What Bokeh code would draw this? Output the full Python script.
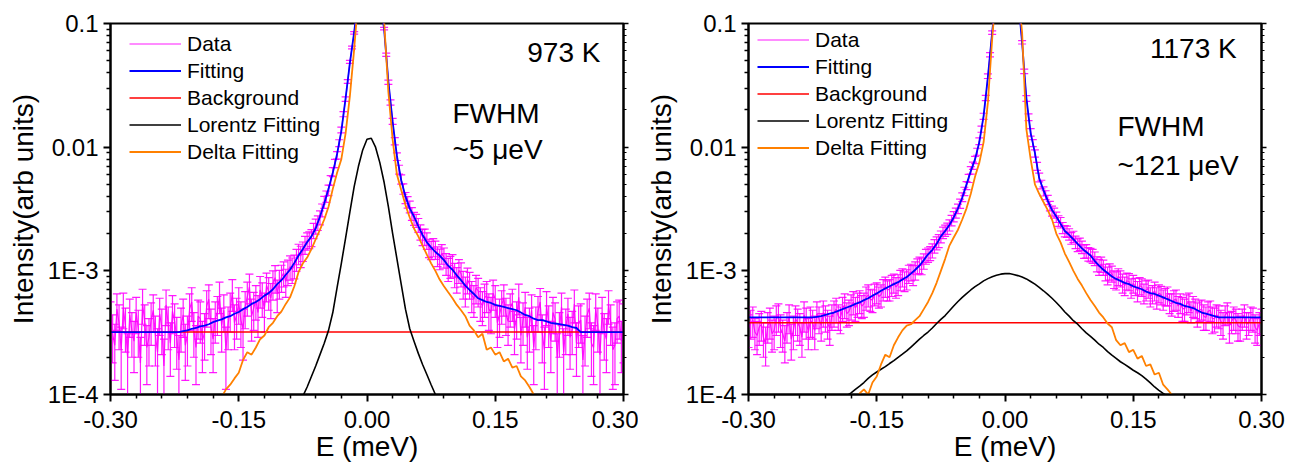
import numpy as np
from bokeh.plotting import figure
from bokeh.models import (Range1d, FixedTicker, LogAxis, Whisker, TeeHead,
                          ColumnDataSource, Legend, LegendItem, Label, PrintfTickFormatter)
from bokeh.layouts import row
from bokeh.embed import file_html
from bokeh.resources import INLINE

FONT = "Liberation Sans"
MAGENTA = "#FF00FF"
BLUE = "#0000FF"
RED = "#FF0000"
ORANGE = "#FF8000"

UNIT = 1e-4   # every intensity list below is given in units of 1e-4 (arb units)

# energy grids (meV): measured data every 0.0025 meV, fit curves every 0.005 meV
E_MIN = -0.300
N_DATA, STEP_DATA = 241, 0.0025
N_FIT, STEP_FIT = 121, 0.005
energy_data = np.round(E_MIN + STEP_DATA * np.arange(N_DATA), 4)
energy_fit = np.round(E_MIN + STEP_FIT * np.arange(N_FIT), 4)

# ticks
x_major_ticks = [-0.30, -0.15, 0.00, 0.15, 0.30]
x_minor_ticks = [-0.27, -0.24, -0.21, -0.18, -0.12, -0.09, -0.06, -0.03,
                 0.03, 0.06, 0.09, 0.12, 0.18, 0.21, 0.24, 0.27]
y_major_ticks = [1e-4, 1e-3, 1e-2, 1e-1]
y_major_labels = ["1E-4", "1E-3", "0.01", "0.1"]
y_minor_ticks = [2e-4, 3e-4, 4e-4, 5e-4, 6e-4, 7e-4, 8e-4, 9e-4,
                 2e-3, 3e-3, 4e-3, 5e-3, 6e-3, 7e-3, 8e-3, 9e-3,
                 2e-2, 3e-2, 4e-2, 5e-2, 6e-2, 7e-2, 8e-2, 9e-2]

# ---------------- 973 K ----------------
data_973 = [
    4.2, 3.1, 2.5, 4.9, 3.8, 2.3, 5.0, 3.6, 2.0, 4.4,
    3.3, 2.7, 4.6, 3.4, 1.8, 5.4, 3.9, 2.4, 2.9, 4.0,
    4.8, 3.0, 2.2, 4.5, 3.5, 1.7, 5.3, 3.7, 2.6, 4.7,
    3.9, 2.9, 1.9, 3.6, 4.4, 2.5, 3.0, 4.9, 5.6, 3.3,
    2.4, 4.3, 4.1, 2.7, 3.2, 5.2, 5.9, 3.5, 2.8, 4.1,
    4.6, 6.3, 3.6, 4.8, 2.3, 3.7, 4.9, 6.6, 3.8, 4.4,
    5.5, 4.0, 3.4, 5.1, 6.2, 7.4, 4.3, 5.0, 5.8, 4.6,
    7.0, 6.1, 4.9, 7.6, 6.8, 6.0, 7.9, 8.8, 6.5, 8.0,
    8.9, 9.6, 8.2, 9.9, 10.8, 10.3, 11.0, 12.4, 13.8, 13.2,
    14.5, 16.3, 17.5, 17.9, 18.6, 21.2, 23, 24.5, 27, 31,
    36, 40, 45, 54, 63, 74, 86, 108, 138, 185,
    245, 340, 490, 640, 840, 1200, 1720, 2350, 3150, 4100,
    4850, 5000, 4750, 3950, 3050, 2200, 1580, 1250, 910, 560,
    335, 230, 162, 112, 84, 66, 55, 46, 39, 36,
    33, 29, 26.5, 25.5, 23.5, 20.6, 18.8, 18.9, 17.6, 15.4,
    14.8, 15.6, 14.9, 13.2, 12.6, 13.8, 12.9, 11.5, 10.4, 10.9,
    11.2, 9.4, 8.6, 10.1, 9.5, 7.9, 7.0, 8.5, 7.8, 6.4,
    5.9, 7.3, 6.9, 5.6, 5.2, 6.0, 6.4, 4.9, 4.6, 6.6,
    5.9, 3.8, 4.4, 5.3, 6.0, 4.5, 3.9, 5.0, 5.5, 3.4,
    4.2, 6.1, 3.0, 4.0, 5.1, 2.9, 3.6, 4.8, 2.4, 3.7,
    4.7, 5.6, 3.1, 2.3, 5.2, 3.8, 2.7, 4.6, 4.1, 2.0,
    3.3, 5.1, 2.2, 3.5, 4.5, 2.9, 3.4, 5.4, 2.6, 3.8,
    4.0, 1.9, 3.0, 4.4, 5.0, 2.6, 2.4, 4.9, 3.6, 2.1,
    4.6, 3.2, 2.8, 5.3, 3.9, 2.3, 2.5, 4.1, 4.3, 2.7,
    3.6]
err_973 = [
    1.4, 1.3, 1.2, 1.6, 1.5, 1.2, 1.6, 1.4, 1.1, 1.5,
    1.3, 1.2, 1.5, 1.4, 1.1, 1.7, 1.4, 1.2, 1.2, 1.5,
    1.6, 1.3, 1.2, 1.5, 1.4, 1.1, 1.7, 1.4, 1.2, 1.6,
    1.5, 1.3, 1.1, 1.4, 1.5, 1.2, 1.3, 1.6, 1.7, 1.3,
    1.2, 1.5, 1.5, 1.2, 1.3, 1.7, 1.8, 1.4, 1.3, 1.5,
    1.6, 1.8, 1.4, 1.6, 1.2, 1.4, 1.7, 1.9, 1.5, 1.6,
    1.8,
    1.6, 1.5, 1.7, 1.9, 2.0, 1.6, 1.7, 1.8, 1.7, 2.0,
    1.9, 1.7, 2.0, 2.0, 1.9, 2.1, 2.2, 1.9, 2.1, 2.2,
    2.2, 2.1, 2.3, 2.4, 2.4, 2.4, 2.5, 2.6, 2.6, 2.6,
    2.7, 2.8, 2.8, 2.9, 3.0, 3.2, 3.3, 3.5, 3.7, 4.0,
    4.2, 4.4, 4.8, 5.2, 5.6, 6.0, 6.8, 7.5, 8.8, 10,
    12, 14, 17, 20, 24, 28, 33, 38, 43, 48,
    49, 48, 43, 38, 33, 28, 24, 21, 17, 13,
    11, 9, 7.5, 6.0, 5.4, 4.8, 4.4, 4.0, 3.8, 3.6,
    3.4, 3.2, 3.1, 3.0, 2.9, 2.8, 2.8, 2.7, 2.6, 2.5,
    2.6, 2.5, 2.4, 2.4, 2.5, 2.4, 2.3, 2.2, 2.2, 2.3,
    2.1, 2.0, 2.2, 2.1, 2.0, 1.9, 2.0, 1.9, 1.8, 1.7,
    1.9, 1.8, 1.7, 1.6, 1.8, 1.8, 1.6, 1.5, 1.8, 1.7,
    1.4, 1.5, 1.6, 1.7, 1.5, 1.4, 1.5, 1.6, 1.3, 1.4,
    1.7, 1.2, 1.5, 1.6, 1.3, 1.4, 1.6, 1.2, 1.4, 1.5,
    1.6, 1.3, 1.2, 1.6, 1.4, 1.2, 1.5, 1.4, 1.1, 1.3,
    1.5, 1.2, 1.4, 1.5, 1.3, 1.3, 1.6, 1.2, 1.4, 1.4,
    1.1, 1.3, 1.5, 1.6, 1.2, 1.2, 1.6, 1.4, 1.1, 1.5,
    1.3, 1.3, 1.6, 1.4, 1.2, 1.3, 1.5, 1.5, 1.2, 1.8]
fit_973 = [3.2] * 17 + [
    3.25, 3.3, 3.4, 3.45, 3.55, 3.6, 3.7, 3.85, 3.95, 4.05,
    4.2, 4.3, 4.5, 4.65, 4.9, 5.1, 5.4, 5.6, 5.9, 6.3,
    6.6, 7.1, 7.8, 8.4, 9.3, 10.2, 11.6, 13.3, 15, 17,
    19, 22, 27.5, 35, 46, 62, 88, 135, 250, 480,
    850, 1700, 3200, 4800, 4800, 3000, 1600, 900, 340, 160,
    85, 54, 40, 32, 27.5, 23, 19.5, 17, 15.5, 14.2,
    13.3, 12.2, 11, 10.2, 9.2, 8.4, 7.6, 7.0, 6.5, 6.0,
    5.8, 5.6, 5.5, 5.3, 5.2, 5.1, 5.0, 4.9, 4.8, 4.6,
    4.4, 4.3, 4.1, 4.0, 4.0, 3.9, 3.8, 3.75, 3.7, 3.65,
    3.6, 3.5, 3.45] + [3.2] * 11
bg_973 = 3.2
lorentz_973 = [None] * 42 + [
    0.7, 0.78, 0.86, 0.97, 1.15, 1.4, 1.7, 2.1, 2.6, 3.3,
    4.6, 7.3, 11.5, 18.5, 30, 48, 70, 95, 116, 118,
    100, 75, 52, 33, 20, 12.5, 7.8, 4.9, 3.4, 2.7,
    2.15, 1.75, 1.45, 1.2, 1.0, 0.86, 0.76, 0.68] + [None] * 41
delta_973 = [None] * 25 + [
    0.8, 0.95, 1.1, 1.2, 1.35, 1.5, 1.9, 2.2, 2.1, 2.4,
    2.8, 3.0, 3.5, 3.8, 4.3, 4.7, 5.4, 6.1, 7.5, 9.8,
    11.5, 12.8, 15, 18, 21.5, 26, 33, 46, 62, 80,
    130, 260, 620, 1700, 4000, 6000, 6000, 3500, 1500, 1050,
    280, 115, 60, 45, 34, 27, 22, 19, 16, 13.5,
    11.5, 10, 8.5, 7.5, 6.7, 6.0, 5.3, 4.8, 4.3, 3.6,
    3.3, 2.9, 3.1, 2.3, 2.4, 2.1, 2.2, 1.85, 1.95, 1.65,
    1.7, 1.4, 1.3, 1.15, 1.0, 0.85] + [None] * 20

# ---------------- 1173 K ----------------
data_1173 = [
    3.4, 3.8, 4.0, 3.2, 3.0, 3.5, 3.7, 2.9, 2.6, 3.6,
    3.9, 3.1, 3.3, 4.1, 4.3, 3.4, 3.1, 2.7, 3.6, 4.2,
    2.8, 3.3, 4.1, 3.8, 3.5, 2.9, 4.4, 3.9, 3.2, 4.0,
    3.8, 3.3, 4.5, 4.1, 3.6, 4.6, 4.2, 3.8, 3.4, 4.3,
    4.6, 4.9, 4.3, 4.1, 5.0, 5.3, 4.5, 4.7, 5.2, 5.6,
    5.0, 5.4, 5.7, 5.2, 5.4, 6.1, 6.4, 5.9, 5.8, 6.5,
    6.7, 6.2, 6.4, 7.1, 7.5, 7.0, 7.1, 7.7, 8.0, 7.4,
    7.8, 8.5, 8.9, 8.3, 8.6, 9.5, 9.8, 9.3, 10.1, 10.9,
    11.2, 11.0, 12.0, 13.1, 13.5, 13.9, 14.6, 15.9, 16.8, 17.5,
    18.9, 20.4, 21.2, 22.0, 23.4, 25.6, 27.5, 29.4, 31.8, 35.0,
    39.5, 44, 49, 56, 65, 71, 79, 92, 112, 140,
    178, 250, 375, 560, 845, 1280, 1920, 2650, 3480, 4350,
    5050, 5200, 4950, 4200, 3320, 2450, 1690, 1100, 705, 410,
    248, 175, 132, 108, 89, 70, 57, 50, 44, 41,
    37.5, 33.5, 30.5, 29.4, 27.2, 25.4, 24.6, 22.3, 21.0, 20.8,
    19.8, 18.4, 18.9, 17.1, 16.2, 16.5, 15.6, 14.4, 14.5, 13.7,
    13.5, 13.2, 12.6, 11.4, 10.8, 11.3, 10.7, 9.8, 9.2, 9.9,
    9.5, 8.6, 8.4, 9.0, 8.7, 8.0, 7.6, 8.3, 8.2, 7.3,
    7.9, 7.5, 6.9, 7.6, 7.4, 6.6, 7.0, 7.2, 6.2, 6.5,
    6.9, 6.1, 6.6, 6.4, 5.9, 6.2, 6.3, 5.5, 5.4, 5.8,
    5.9, 5.2, 5.5, 5.0, 4.9, 5.4, 5.6, 4.7, 5.2, 5.0,
    4.5, 4.8, 4.9, 4.3, 4.2, 4.7, 4.8, 4.1, 4.1, 4.4,
    4.3, 3.9, 3.7, 4.4, 4.6, 3.6, 3.9, 4.2, 4.0, 3.6,
    3.5, 4.1, 4.4, 3.7, 3.8, 4.2, 4.1, 3.5, 3.3, 3.8,
    4.0]
err_1173 = [
    1.0, 1.0, 1.1, 0.9, 0.9, 1.0, 1.0, 0.9, 0.9, 1.0,
    1.1, 0.9, 1.0, 1.1, 1.1, 1.0, 0.9, 0.9, 1.0, 1.1,
    0.9, 1.0, 1.1, 1.1, 1.0, 0.9, 1.2, 1.1, 0.9, 1.1,
    1.0, 1.0, 1.1, 1.0, 0.9, 1.1, 1.0, 1.0, 0.9, 1.0,
    1.1, 1.1, 1.0, 1.0, 1.1, 1.2, 1.0, 1.1, 1.2, 1.2,
    1.1, 1.2, 1.2, 1.1, 1.2, 1.3, 1.3, 1.2, 1.2, 1.3,
    1.3,
    1.2, 1.3, 1.4, 1.4, 1.3, 1.4, 1.5, 1.4, 1.4, 1.5,
    1.6, 1.5, 1.5, 1.6, 1.6, 1.5, 1.7, 1.7, 1.6, 1.7,
    1.7, 1.7, 1.8, 1.8, 1.8, 1.9, 2.0, 2.0, 2.1, 2.1,
    2.2, 2.2, 2.3, 2.4, 2.5, 2.6, 2.7, 2.8, 3.0, 3.2,
    3.4, 3.7, 4.2, 4.5, 4.8, 5.3, 6, 7, 8, 10,
    12, 16, 22, 28, 36, 42, 48, 52, 56, 58,
    59, 58, 54, 48, 42, 35, 28, 22, 17, 13,
    11, 9, 7, 6, 5.2, 4.6, 4.0, 3.7, 3.4, 3.2,
    3.0, 2.8, 2.7, 2.6, 2.5, 2.4, 2.3, 2.2, 2.2, 2.1,
    2.0, 2.0, 2.0, 1.9, 1.9, 1.8, 1.8, 1.8, 1.7, 1.7,
    1.7, 1.6, 1.6, 1.6, 1.6, 1.5, 1.5, 1.5, 1.5, 1.4,
    1.4, 1.4, 1.4, 1.3, 1.4, 1.3, 1.3, 1.3, 1.3, 1.3,
    1.2, 1.3, 1.2, 1.2, 1.2, 1.3, 1.2, 1.1, 1.1, 1.2,
    1.2, 1.1, 1.1, 1.1, 1.0, 1.1, 1.0, 1.1, 1.1, 1.1,
    1.0, 1.0, 1.1, 1.0, 1.0, 1.0, 0.9, 1.0, 0.9, 1.0,
    0.9, 0.9, 1.0, 0.9, 0.9, 0.9, 1.0, 0.9, 0.9, 0.9,
    0.9, 0.9, 0.8, 0.9, 1.0, 0.8, 0.9, 0.9, 0.9, 0.8,
    0.8, 0.9, 0.9, 0.8, 0.9, 0.9, 0.9, 0.8, 0.8, 0.9]
fit_1173 = [4.2] * 16 + [
    4.25, 4.3, 4.4, 4.5, 4.6, 4.75, 4.9, 5.05, 5.2, 5.4,
    5.55, 5.8, 6.0, 6.3, 6.55, 6.9, 7.2, 7.5, 7.8, 8.1,
    8.5, 8.9, 9.5, 10.2, 11.0, 12.2, 13.6, 14.8, 16.5, 19,
    21, 23.5, 27, 32, 39, 50, 64, 80, 110, 180,
    370, 850, 1900, 3500, 5000, 5000, 3300, 1700, 700, 250,
    130, 90, 56, 45, 37, 31, 27.5, 24, 21, 19.5,
    18, 16.5, 15.2, 14.2, 13.3, 12, 11, 10.2, 9.6, 9.0,
    8.6, 8.3, 8.0, 7.8, 7.5, 7.3, 7.1, 6.8, 6.6, 6.5,
    6.3, 6.1, 5.9, 5.7, 5.5, 5.4, 5.2, 5.1, 5.0, 4.8,
    4.6, 4.5, 4.4, 4.3] + [4.2] * 11
bg_1173 = 3.8
lorentz_1173 = [None] * 20 + [
    0.84, 0.88, 0.93, 0.98, 1.03, 1.1, 1.17, 1.25, 1.35, 1.44,
    1.52, 1.6, 1.68, 1.78, 1.88, 2.0, 2.12, 2.25, 2.42, 2.6,
    2.8, 3.0, 3.2, 3.45, 3.75, 4.05, 4.35, 4.75, 5.2, 5.65,
    6.1, 6.55, 7.0, 7.45, 7.85, 8.3, 8.65, 8.95, 9.2, 9.4,
    9.5, 9.5, 9.35, 9.15, 8.9, 8.6, 8.2, 7.8, 7.35, 6.9,
    6.45, 6.0, 5.55, 5.1, 4.65, 4.3, 3.95, 3.7, 3.4, 3.15,
    2.95, 2.75, 2.55, 2.4, 2.22, 2.08, 1.96, 1.84, 1.75, 1.66,
    1.57, 1.5, 1.42, 1.33, 1.24, 1.15, 1.08, 1.02, 0.97, 0.92,
    0.87] + [None] * 20
delta_1173 = [None] * 24 + [
    0.8, 0.9, 1.02, 1.1, 1.0, 1.25, 1.4, 1.75, 2.1, 2.0,
    2.5, 2.9, 3.3, 3.6, 3.7, 4.0, 4.3, 4.9, 5.6, 6.6,
    8.0, 10, 12.5, 16, 18.6, 21.5, 26, 32, 42, 58,
    75, 110, 230, 750, 2000, 4500, 6000, 6000, 4000, 1900,
    850, 140, 80, 50, 42, 36, 31, 26, 20, 17,
    13.8, 11.8, 10, 8.6, 7.6, 6.6, 5.8, 5.2, 4.6, 4.2,
    3.75, 3.5, 2.75, 2.5, 2.6, 2.2, 2.3, 1.95, 2.05, 1.7,
    1.75, 1.45, 1.5, 1.2, 1.1, 1.0, 0.85] + [None] * 20

legend_labels = ["Data", "Fitting", "Background", "Lorentz Fitting", "Delta Fitting"]

for lst in (data_973, err_973, data_1173, err_1173):
    assert len(lst) == N_DATA, len(lst)
for lst in (fit_973, lorentz_973, delta_973, fit_1173, lorentz_1173, delta_1173):
    assert len(lst) == N_FIT, len(lst)


def arr(v):
    return np.array(v, dtype=float) * UNIT


def style_axis(ax):
    ax.axis_line_width = 2
    ax.axis_line_color = "black"
    ax.major_tick_line_width = 2
    ax.minor_tick_line_width = 1.5
    ax.major_tick_in = 0
    ax.major_tick_out = 7
    ax.minor_tick_in = 0
    ax.minor_tick_out = 4
    ax.major_label_text_font = FONT
    ax.major_label_text_font_size = "24px"
    ax.major_label_text_color = "black"
    ax.axis_label_text_font = FONT
    ax.axis_label_text_font_size = "28px"
    ax.axis_label_text_font_style = "normal"
    ax.axis_label_text_color = "black"


def panel(data, err, fit, bg, lor, delta, texts, legend_loc, b_left, b_right):
    p = figure(frame_width=513, frame_height=371,
               x_range=Range1d(-0.3, 0.3), y_range=Range1d(1e-4, 0.1),
               y_axis_type="log", output_backend="svg", toolbar_location=None,
               min_border_left=b_left, min_border_right=b_right,
               min_border_top=23, min_border_bottom=76,
               background_fill_color="white", border_fill_color="white")
    p.grid.visible = False
    p.outline_line_color = "black"
    p.outline_line_width = 2
    p.outline_line_alpha = 1

    xt = FixedTicker(ticks=x_major_ticks, minor_ticks=x_minor_ticks)
    yt = FixedTicker(ticks=y_major_ticks, minor_ticks=y_minor_ticks)
    p.xaxis.ticker = xt
    p.xaxis.formatter = PrintfTickFormatter(format="%.2f")
    p.yaxis.ticker = yt
    p.yaxis.major_label_overrides = dict(zip(y_major_ticks, y_major_labels))
    p.xaxis.axis_label = "E (meV)"
    p.yaxis.axis_label = "Intensity(arb units)"
    style_axis(p.xaxis[0])
    style_axis(p.yaxis[0])
    p.xaxis.major_label_standoff = 9
    p.xaxis.axis_label_standoff = 0
    p.yaxis.major_label_standoff = 5
    p.yaxis.axis_label_standoff = 6

    ra = LogAxis(ticker=yt, major_label_text_font_size="10px", major_label_text_alpha=0,
                 major_label_overrides={t: "" for t in y_major_ticks},
                 major_label_standoff=0,
                 major_tick_in=0, major_tick_out=5, minor_tick_in=0, minor_tick_out=3,
                 axis_line_width=2, major_tick_line_width=1.5, minor_tick_line_width=1)
    p.add_layout(ra, "right")

    y = arr(data)
    e = arr(err)
    src = ColumnDataSource(dict(x=energy_data, upper=y + e, lower=np.maximum(y - e, 1e-7)))
    wh = Whisker(base="x", upper="upper", lower="lower", source=src,
                 line_color=MAGENTA, line_width=1.2, line_alpha=0.9,
                 upper_head=TeeHead(size=8, line_color=MAGENTA, line_width=1.2, line_alpha=0.9),
                 lower_head=TeeHead(size=8, line_color=MAGENTA, line_width=1.2, line_alpha=0.9))
    p.add_layout(wh)
    r_data = p.line(energy_data, y, line_color=MAGENTA, line_width=1.2, line_alpha=0.9)
    r_bg = p.line(energy_fit, np.full(N_FIT, bg * UNIT), line_color=RED, line_width=1.6)
    r_fit = p.line(energy_fit, arr(fit), line_color=BLUE, line_width=1.8)
    r_lor = p.line(energy_fit, arr(lor), line_color="black", line_width=1.6)
    r_del = p.line(energy_fit, arr(delta), line_color=ORANGE, line_width=1.8)

    items = [LegendItem(label=lab, renderers=[r]) for lab, r in
             zip(legend_labels, [r_data, r_fit, r_bg, r_lor, r_del])]
    leg = Legend(items=items, location=legend_loc, padding=0, margin=0, spacing=2,
                 label_height=25, glyph_height=25, glyph_width=52, label_standoff=6,
                 label_text_font=FONT, label_text_font_size="21px", label_text_color="black",
                 background_fill_alpha=0, border_line_alpha=0)
    p.add_layout(leg)

    for (tx, ty, txt, align) in texts:
        p.add_layout(Label(x=tx, y=ty, text=txt, text_font=FONT, text_font_size="28px",
                           text_align=align, text_baseline="middle", text_color="black"))
    return p


p1 = panel(data_973, err_973, fit_973, bg_973, lorentz_973, delta_973,
           [(0.273, 0.0582, "973 K", "right"),
            (0.100, 0.0187, "FWHM", "left"),
            (0.100, 0.00957, "~5 \u03bceV", "left")],
           (19, 230), 110, 15)
p2 = panel(data_1173, err_1173, fit_1173, bg_1173, lorentz_1173, delta_1173,
           [(0.271, 0.0628, "1173 K", "right"),
            (0.1316, 0.0147, "FWHM", "left"),
            (0.1316, 0.00711, "~121 \u03bceV", "left")],
           (9, 234), 110, 25)

layout = row(p1, p2)
open("out.html", "w").write(file_html(layout, INLINE))
